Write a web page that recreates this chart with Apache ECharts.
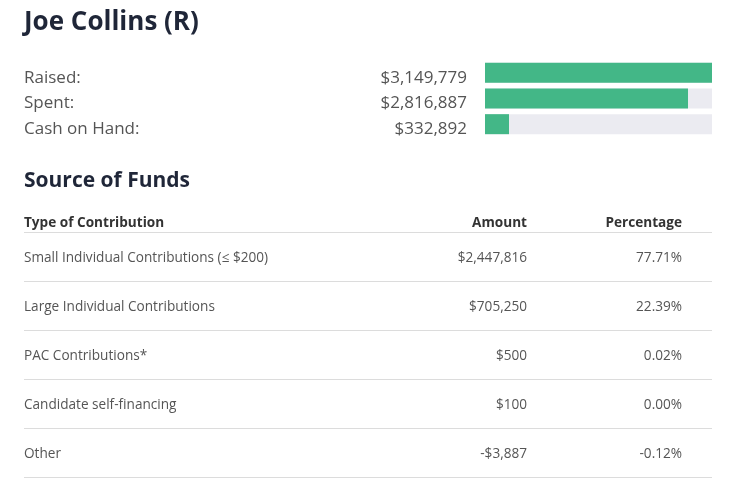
<!DOCTYPE html>
<html>
<head>
<meta charset="utf-8" />
<title>Joe Collins (R)</title>
<script src="https://cdn.jsdelivr.net/npm/echarts@6/dist/echarts.min.js"></script>
<style>
	* { margin: 0; padding: 0; box-sizing: border-box; }
	html, body { background: #fff; }
</style>
</head>
<body>
<div id="main" style="width: 729px; height: 485px"></div>
<script>
// 顶部汇总
var summaryLabels = ['Raised:', 'Spent:', 'Cash on Hand:'];
var summaryValues = [3149779, 2816887, 332892];

// 资金来源表
var tableHeader = ['Type of Contribution', 'Amount', 'Percentage'];
var contribTypes = ['Small Individual Contributions (\u2264 $200)', 'Large Individual Contributions', 'PAC Contributions*', 'Candidate self-financing', 'Other'];
var contribAmounts = [2447816, 705250, 500, 100, -3887];
var contribPercents = [77.71, 22.39, 0.02, 0.00, -0.12];

var FONT = '"Open Sans", sans-serif';
var TEXT = '#555';
var DARK = '#1f2638';
var LINE = '#dcdcdc';

function money(v) {
	var s = '$' + Math.abs(v).toLocaleString('en-US');
	return v < 0 ? '-' + s : s;
}

var graphic = [
	{type: 'text', x: 24, y: 23, style: {text: 'Joe Collins (R)', font: 'bold 26px ' + FONT, fill: DARK, textVerticalAlign: 'middle'}},
	{type: 'text', x: 24, y: 181, style: {text: 'Source of Funds', font: 'bold 21px ' + FONT, fill: DARK, textVerticalAlign: 'middle'}}
];

// 表头
var headY = 223, rowY0 = 258, rowStep = 49;
var rowFont = '13.6px ' + FONT, headFont = 'bold 13.6px ' + FONT;
graphic.push({type: 'text', x: 24, y: headY, style: {text: tableHeader[0], font: headFont, fill: '#333', textVerticalAlign: 'middle'}});
graphic.push({type: 'text', x: 527, y: headY, style: {text: tableHeader[1], font: headFont, fill: '#333', textAlign: 'right', textVerticalAlign: 'middle'}});
graphic.push({type: 'text', x: 682, y: headY, style: {text: tableHeader[2], font: headFont, fill: '#333', textAlign: 'right', textVerticalAlign: 'middle'}});
graphic.push({type: 'line', shape: {x1: 24, y1: 232.5, x2: 712, y2: 232.5}, style: {stroke: LINE, lineWidth: 1}});

for (var i = 0; i < contribTypes.length; i++) {
	var y = rowY0 + i * rowStep;
	graphic.push({type: 'text', x: 24, y: y, style: {text: contribTypes[i], font: rowFont, fill: TEXT, textVerticalAlign: 'middle'}});
	graphic.push({type: 'text', x: 527, y: y, style: {text: money(contribAmounts[i]), font: rowFont, fill: TEXT, textAlign: 'right', textVerticalAlign: 'middle'}});
	graphic.push({type: 'text', x: 682, y: y, style: {text: contribPercents[i].toFixed(2) + '%', font: rowFont, fill: TEXT, textAlign: 'right', textVerticalAlign: 'middle'}});
	graphic.push({type: 'line', shape: {x1: 24, y1: y + 23.5, x2: 712, y2: y + 23.5}, style: {stroke: LINE, lineWidth: 1}});
}

var myChart = echarts.init(document.getElementById('main'));
var option = {
	backgroundColor: '#fff',
	animation: false,
	textStyle: {fontFamily: FONT},
	grid: {left: 485, right: 17, top: 60, height: 77},
	xAxis: {type: 'value', min: 0, max: summaryValues[0], show: false},
	yAxis: [
		{
			type: 'category', inverse: true, data: summaryLabels,
			axisLine: {show: false}, axisTick: {show: false}, splitLine: {show: false},
			axisLabel: {margin: 18, fontSize: 17, color: TEXT, fontFamily: FONT, verticalAlign: 'top', lineHeight: 10,
				formatter: function (v, idx) { return money(summaryValues[idx]); }}
		},
		{
			type: 'category', inverse: true, position: 'left', data: summaryLabels,
			axisLine: {show: false}, axisTick: {show: false}, splitLine: {show: false},
			axisLabel: {margin: 461, align: 'left', fontSize: 17, color: TEXT, fontFamily: FONT, verticalAlign: 'top', lineHeight: 10}
		}
	],
	series: [{
		type: 'bar', data: summaryValues, barWidth: 20,
		itemStyle: {color: '#43b787'},
		showBackground: true,
		backgroundStyle: {color: '#ebebf1'}
	}],
	graphic: graphic
};
myChart.setOption(option);
</script>
</body>
</html>
